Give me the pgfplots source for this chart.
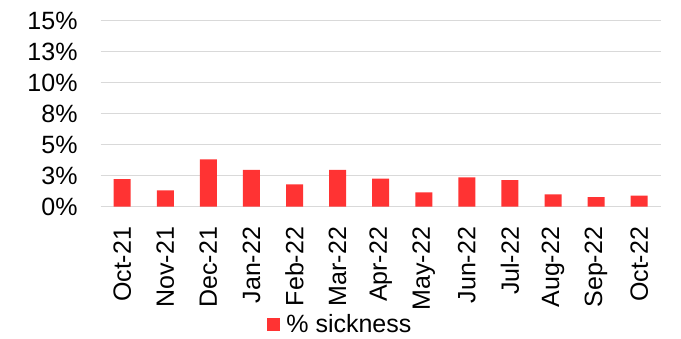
\documentclass[border=0pt]{standalone}
\usepackage{pgfplots}
\pgfplotsset{compat=1.18}
\usepackage{fontspec}
\setmainfont{Liberation Sans}
\definecolor{barred}{HTML}{FF3333}
\definecolor{gridgrey}{HTML}{D9D9D9}
\begin{document}
\fontsize{25}{30}\selectfont
\begin{tikzpicture}
\path[use as bounding box] (-100.7pt,-131.3pt) rectangle (580.3pt,206.7pt);
\begin{axis}[
  at={(0,0)}, anchor=south west,
  scale only axis, width=560pt, height=186pt,
  ybar, bar width=17pt,
  xmin=-0.5, xmax=12.5, ymin=0, ymax=15,
  xtick={0,...,12},
  xticklabels={Oct-21,Nov-21,Dec-21,Jan-22,Feb-22,Mar-22,Apr-22,May-22,Jun-22,Jul-22,Aug-22,Sep-22,Oct-22},
  ytick={0,2.5,5,7.5,10,12.5,15},
  yticklabels={0\%,3\%,5\%,8\%,10\%,13\%,15\%},
  major tick length=0pt,
  axis line style={draw=none},
  ymajorgrids, major grid style={draw=gridgrey, line width=1.3pt},
  tick label style={font=\fontsize{25}{30}\selectfont, text=black},
  yticklabel style={inner sep=0pt, anchor=east, xshift=-23pt},
  xticklabel style={inner sep=0pt, yshift=-20pt, rotate=90, anchor=east},
  legend style={draw=none, fill=none, at={(0.428,-0.636)}, anchor=center,
    font=\fontsize{25}{30}\selectfont, inner sep=0pt,
    /tikz/every even column/.append style={column sep=0pt}},
  legend image code/.code={\fill[barred] (0pt,-6.5pt) rectangle (13pt,6.5pt);},
]
\addplot[fill=barred, draw=none] coordinates {
 (0,2.23) (1,1.32) (2,3.82) (3,2.98) (4,1.80) (5,2.98) (6,2.26)
 (7,1.16) (8,2.37) (9,2.15) (10,1.00) (11,0.78) (12,0.89)};
\addlegendentry{\hspace{4pt}\% sickness}
\end{axis}
\end{tikzpicture}
\end{document}
